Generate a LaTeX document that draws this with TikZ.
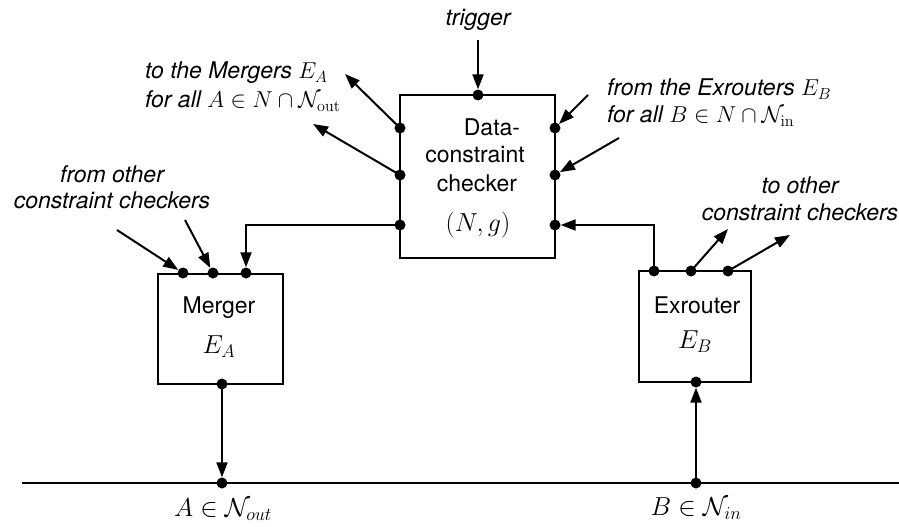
\RequirePackage{fix-cm}
\documentclass[tikz,border=0pt]{standalone}
\usepackage[no-math]{fontspec}
\setmainfont{TeX Gyre Heros}
\usetikzlibrary{arrows.meta}
\begin{document}
\begin{tikzpicture}[x=1pt,y=-1pt,
  every node/.style={font=\fontsize{23}{27}\selectfont},
  box/.style={draw,line width=2pt,minimum width=#1,inner sep=0pt},
  dot/.style={circle,fill=black,inner sep=0pt,minimum size=11pt},
  lbl/.style={font=\fontsize{23}{27}\selectfont\itshape,inner sep=0pt},
  txt/.style={inner sep=0pt},
  bigm/.style={inner sep=0pt,font=\fontsize{26}{30}\selectfont},
  arr/.style={line width=2pt,-{Triangle[length=15pt,width=11pt]}},
  ln/.style={line width=2pt}]
\useasboundingbox (0,0) rectangle (899,527);
% boxes
\node[box=155pt,minimum height=163pt] (dc) at (477.5,176.5) {};
\node[box=125pt,minimum height=110pt] (mg) at (220.5,328.5) {};
\node[box=112pt,minimum height=111pt] (ex) at (695,326.5) {};
% box texts
\node[txt] (t1) at (492,127) {Data-};
\node[txt] (t2) at (475,155) {constraint};
\node[txt] (t3) at (477,183) {checker};
\node[bigm] (t4) at (478,225) {$(N,g)$};
\node[txt] (m1) at (219,308) {Merger};
\node[bigm] (m2) at (219,347) {$E_A$};
\node[txt] (e1) at (697,305) {Exrouter};
\node[bigm] (e2) at (695,342) {$E_B$};
% dots
\node[dot] (dtop) at (478,95) {};
\node[dot] (dl1) at (400,128) {};
\node[dot] (dl2) at (400,175) {};
\node[dot] (dl3) at (400,225) {};
\node[dot] (dr1) at (555,128) {};
\node[dot] (dr2) at (555,175) {};
\node[dot] (dr3) at (555,225) {};
\node[dot] (mt1) at (183,273) {};
\node[dot] (mt2) at (213,273) {};
\node[dot] (mt3) at (246,273) {};
\node[dot] (mb) at (222,384) {};
\node[dot] (et1) at (654,271) {};
\node[dot] (et2) at (691,271) {};
\node[dot] (et3) at (728,271) {};
\node[dot] (eb) at (696,382) {};
\node[dot] (la) at (222,483) {};
\node[dot] (lb) at (696,483) {};
% bottom line
\coordinate (lineL) at (22,483);
\coordinate (lineR) at (899,483);
\draw[ln] (lineL) -- (lineR);
% labels
\node[lbl] (trig) at (478,20) {trigger};
\node[lbl,anchor=west] (tm1) at (145,73) {to the Mergers $E_A$};
\node[lbl,anchor=west] (tm2) at (145,101) {for all $A\in N\cap\mathcal{N}_{\mathrm{out}}$};
\node[lbl,anchor=west] (fe1) at (607,89) {from the Exrouters $E_B$};
\node[lbl,anchor=west] (fe2) at (607,116) {for all $B\in N\cap\mathcal{N}_{\mathrm{in}}$};
\node[lbl] (fo1) at (112,174) {from other};
\node[lbl] (fo2) at (112,200) {constraint checkers};
\node[lbl] (to1) at (800,185) {to other};
\node[lbl] (to2) at (800,212) {constraint checkers};
\node[bigm] (na) at (223,510) {$A\in\mathcal{N}_{out}$};
\node[bigm] (nb) at (696,509) {$B\in\mathcal{N}_{in}$};
% free ends
\coordinate (trigS) at (478,40);
\coordinate (ol1) at (345,74);
\coordinate (ol2) at (313,124);
\coordinate (ir1) at (588,95);
\coordinate (ir2) at (619,138);
\coordinate (im1) at (117,230);
\coordinate (im2) at (185,220);
\coordinate (oe2) at (728,229);
\coordinate (oe3) at (790,235);
% connectors
\draw[arr] (trigS) -- (dtop);
\draw[arr] (dl1.center) -- (ol1);
\draw[arr] (dl2.center) -- (ol2);
\draw[arr] (ir1) -- (dr1);
\draw[arr] (ir2) -- (dr2);
\draw[arr] (dl3.center) -| (mt3);
\draw[arr] (et1.center) |- (dr3);
\draw[arr] (im1) -- (mt1);
\draw[arr] (im2) -- (mt2);
\draw[arr] (et2.center) -- (oe2);
\draw[arr] (et3.center) -- (oe3);
\draw[arr] (mb.center) -- (la);
\draw[arr] (lb.center) -- (eb);
\end{tikzpicture}
\end{document}
